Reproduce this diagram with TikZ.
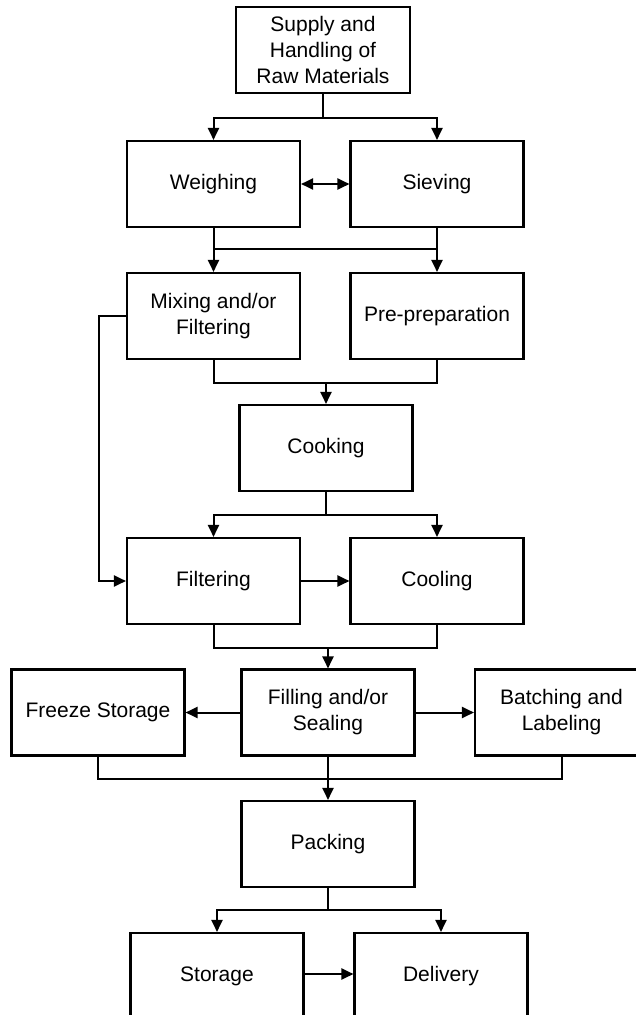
\documentclass[tikz,border=0pt]{standalone}
\usepackage{fontspec}
\setmainfont{Liberation Sans}
\usetikzlibrary{arrows.meta,calc}

\tikzset{
  stagebox/.style={draw, line width=2.1pt, rectangle, minimum width=173pt,
    minimum height=86pt, inner sep=2pt, align=center,
    font=\fontsize{21}{26}\selectfont},
  flow/.style={line width=2pt},
  flowarrow/.style={flow, -{Triangle[length=12pt,width=11pt]}},
}

\begin{document}
\begin{tikzpicture}[x=1pt,y=-1pt]
\fill[white] (0,0) rectangle (636,1015);
\begin{scope}
\clip (0,0) rectangle (636,1015);

% process stages
\node[stagebox, minimum width=174pt] (supply) at (323,50) {Supply and\\Handling of\\Raw Materials};
\node[stagebox] (weigh)  at (213.5,184) {Weighing};
\node[stagebox] (sieve)  at (437,184)   {Sieving};
\node[stagebox] (mix)    at (213.5,316) {Mixing and/or\\Filtering};
\node[stagebox] (prep)   at (437,316)   {Pre-preparation};
\node[stagebox] (cook)   at (326,448)   {Cooking};
\node[stagebox] (filt)   at (213.5,581) {Filtering};
\node[stagebox] (cool)   at (437,581)   {Cooling};
\node[stagebox] (freeze) at (98,712.5)  {Freeze Storage};
\node[stagebox] (fill)   at (328,712.5) {Filling and/or\\Sealing};
\node[stagebox] (batch)  at (561.5,712.5) {Batching and\\Labeling};
\node[stagebox] (pack)   at (328,844)   {Packing};
\node[stagebox] (stor)   at (217,976)   {Storage};
\node[stagebox] (deliv)  at (441,976)   {Delivery};

% raw materials split to weighing and sieving
\coordinate (j1) at ($(supply.south)+(0,24)$);
\draw[flow] (supply.south) -- (j1);
\draw[flowarrow] (j1) -| (weigh.north);
\draw[flowarrow] (j1) -| (sieve.north);
\draw[flow, {Triangle[length=12pt,width=11pt]}-{Triangle[length=12pt,width=11pt]}] (weigh.east) -- (sieve.west);

% weighing and sieving feed mixing and pre-preparation
\coordinate (j2) at ($(weigh.south)+(0,21)$);
\draw[flow] (weigh.south) -- (j2) -| (sieve.south);
\draw[flowarrow] (j2) -- (mix.north);
\draw[flowarrow] (j2 -| prep.north) -- (prep.north);

% both join into cooking
\coordinate (j3) at ($(mix.south)+(0,23)$);
\draw[flow] (mix.south) -- (j3) -| (prep.south);
\draw[flowarrow] (j3 -| cook.north) -- (cook.north);

% bypass from mixing straight to filtering
\draw[flowarrow] (mix.west) -- ++(-27,0) |- (filt.west);

% cooking split to filtering and cooling
\coordinate (j4) at ($(cook.south)+(0,23)$);
\draw[flow] (cook.south) -- (j4);
\draw[flowarrow] (j4) -| (filt.north);
\draw[flowarrow] (j4) -| (cool.north);
\draw[flowarrow] (filt.east) -- (cool.west);

% filtering and cooling join into filling
\coordinate (j5) at ($(filt.south)+(0,23)$);
\draw[flow] (filt.south) -- (j5) -| (cool.south);
\draw[flowarrow] (j5 -| fill.north) -- (fill.north);

% filling branches
\draw[flowarrow] (fill.west) -- (freeze.east);
\draw[flowarrow] (fill.east) -- (batch.west);
\coordinate (j6) at ($(freeze.south)+(0,22)$);
\draw[flow] (freeze.south) -- (j6) -| (batch.south);
\draw[flowarrow] (fill.south) -- (pack.north);

% packing split to storage and delivery
\coordinate (j7) at ($(pack.south)+(0,22)$);
\draw[flow] (pack.south) -- (j7);
\draw[flowarrow] (j7) -| (stor.north);
\draw[flowarrow] (j7) -| (deliv.north);
\draw[flowarrow] ($(stor.east)+(0,-2)$) -- ($(deliv.west)+(0,-2)$);
\end{scope}

\pgfresetboundingbox
\useasboundingbox (0,0) rectangle (636,1015);
\end{tikzpicture}
\end{document}
